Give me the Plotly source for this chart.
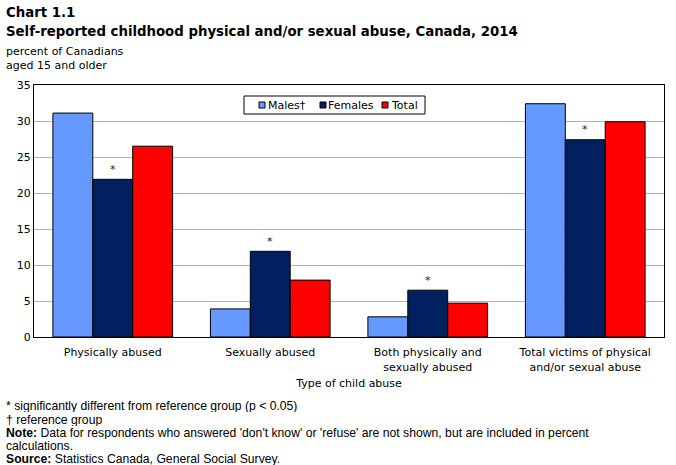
import plotly.graph_objects as go

categories = ["Physically abused", "Sexually abused", "Both physically and<br>sexually abused",
              "Total victims of physical<br>and/or sexual abuse"]
series_names = ["Males†", "Females", "Total"]
males = [31.1, 3.9, 2.8, 32.4]
females = [21.9, 11.9, 6.5, 27.4]
total = [26.5, 7.9, 4.7, 29.9]
female_sig = ["*", "*", "*", "*"]
y_ticks = [0, 5, 10, 15, 20, 25, 30, 35]
colors = ["#6699FF", "#002060", "#FF0000"]

FONT = "DejaVu Sans"
W, H = 676, 465
ML, MR, MT, MB = 34, 12, 85, 128
PW, PH = W - ML - MR, H - MT - MB

def px(x):
    return (x - ML) / PW

def py(y):
    return (H - MB - y) / PH

fig = go.Figure()
for name, vals, col in zip(series_names, [males, females, total], colors):
    fig.add_trace(go.Bar(x=categories, y=vals, name=name,
                         marker=dict(color=col, line=dict(color="black", width=1))))

for c, v, s in zip(categories, females, female_sig):
    fig.add_annotation(x=c, y=v, text=s, showarrow=False, yshift=10,
                       font=dict(size=11, color="#222", family=FONT))

fig.update_layout(
    width=W, height=H, margin=dict(l=ML, r=MR, t=MT, b=MB),
    plot_bgcolor="white", paper_bgcolor="white",
    barmode="group", bargap=0.24, bargroupgap=0,
    font=dict(family=FONT, size=11, color="black"),
    showlegend=False,
    xaxis=dict(showline=True, linecolor="black", mirror=True, ticks="", tickfont=dict(size=11),
               ticklabelstandoff=5,
               title=dict(text="Type of child abuse", font=dict(size=11), standoff=6)),
    yaxis=dict(range=[0, 35], tickvals=y_ticks, showgrid=True, gridcolor="#B3B3B3", showline=True,
               linecolor="black", mirror=True, ticks="", tickfont=dict(size=11), zeroline=False),
)

# legend box (drawn)
fig.add_shape(type="rect", xref="paper", yref="paper", x0=px(244), x1=px(425), y0=py(114), y1=py(96),
              line=dict(color="black", width=1), fillcolor="white", layer="above")
leg_sq = [259, 320, 382]
leg_tx = [266, 326, 389]
for name, col, sx, tx in zip(series_names, colors, leg_sq, leg_tx):
    fig.add_shape(type="rect", xref="paper", yref="paper", x0=px(sx), x1=px(sx + 6), y0=py(108), y1=py(102),
                  line=dict(color="black", width=1), fillcolor=col, layer="above")
    fig.add_annotation(xref="paper", yref="paper", x=px(tx), y=py(105), xanchor="left", yanchor="middle",
                       text=name, showarrow=False, font=dict(size=11, family=FONT))

# titles
fig.add_annotation(xref="paper", yref="paper", x=px(4), y=py(13), xanchor="left", yanchor="middle",
                   showarrow=False, text="<b>Chart 1.1</b>", font=dict(size=13.3, family=FONT))
fig.add_annotation(xref="paper", yref="paper", x=px(4), y=py(31), xanchor="left", yanchor="middle",
                   showarrow=False, text="<b>Self-reported childhood physical and/or sexual abuse, Canada, 2014</b>",
                   font=dict(size=13.3, family=FONT))
fig.add_annotation(xref="paper", yref="paper", x=px(4), y=py(51), xanchor="left", yanchor="middle",
                   showarrow=False, text="percent of Canadians", font=dict(size=11, family=FONT))
fig.add_annotation(xref="paper", yref="paper", x=px(4), y=py(65), xanchor="left", yanchor="middle",
                   showarrow=False, text="aged 15 and older", font=dict(size=11, family=FONT))

notes = [
    "* significantly different from reference group (p < 0.05)",
    "† reference group",
    "<b>Note:</b> Data for respondents who answered 'don't know' or 'refuse' are not shown, but are included in percent",
    "calculations.",
    "<b>Source:</b> Statistics Canada, General Social Survey.",
]
note_y = [406, 420, 433, 446, 459]
for t, yy in zip(notes, note_y):
    fig.add_annotation(xref="paper", yref="paper", x=px(5), y=py(yy), xanchor="left", yanchor="middle",
                       showarrow=False, text=t, height=12, borderpad=0,
                       font=dict(size=12.2, family="Liberation Sans"))

fig.write_html("out.html")
